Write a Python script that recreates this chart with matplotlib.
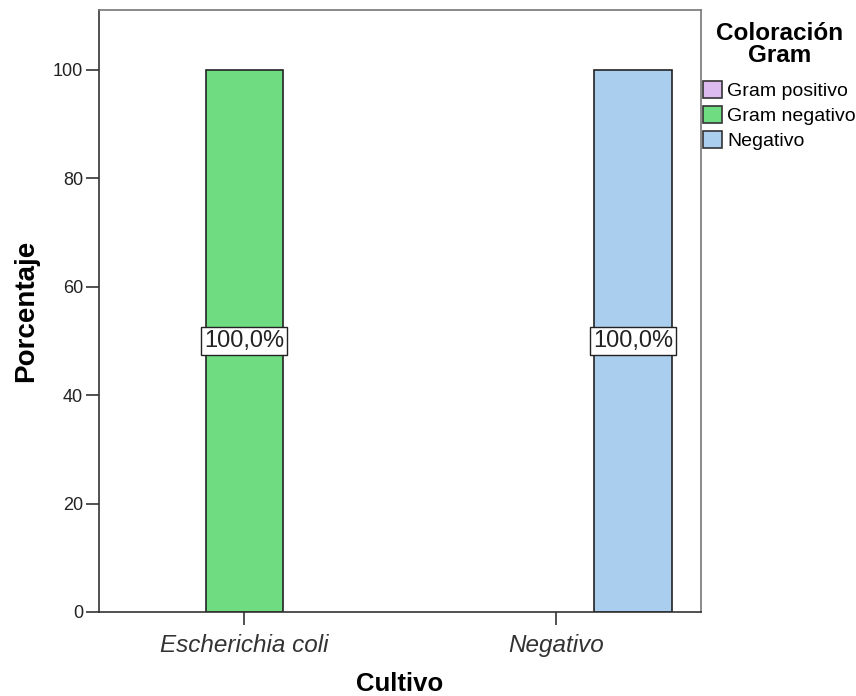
import numpy as np
import matplotlib
matplotlib.use("Agg")
import matplotlib.pyplot as plt
from matplotlib.patches import Patch

plt.rcParams['font.family'] = ['Liberation Sans', 'DejaVu Sans']

cultivos = ["Escherichia coli", "Negativo"]
series = ["Gram positivo", "Gram negativo", "Negativo"]
porcentajes = [
    [0, 0],      # Gram positivo
    [100, 0],    # Gram negativo
    [0, 100],    # Negativo
]
colores = ["#DCBCF0", "#70DC82", "#AACEEE"]

fig = plt.figure(figsize=(8.56, 6.96), dpi=100)
ax = fig.add_axes([99/856, 1 - 612/696, (701 - 99)/856, (612 - 10)/696])

x = np.arange(len(cultivos))
w = 0.247
for i, (nombre, vals, col) in enumerate(zip(series, porcentajes, colores)):
    pos = x + (i - 1) * w
    for xi, v in zip(pos, vals):
        if v > 0:
            ax.bar(xi, v, width=w, color=col, edgecolor="#222222", linewidth=1.2)
            ax.text(xi, v / 2, f"{v:.1f}%".replace(".", ","), ha="center", va="center",
                    fontsize=17, color="#222222",
                    bbox=dict(boxstyle="square,pad=0.12", facecolor="white",
                              edgecolor="#222222", linewidth=1))

ax.set_xlim(-0.465, 1.465)
ax.set_ylim(0, 111)
ax.set_yticks([0, 20, 40, 60, 80, 100])
ax.set_xticks(x)
ax.set_xticklabels(cultivos, fontsize=17.5, style="italic", color="#222222")
ax.tick_params(axis="y", labelsize=13, length=9.5, width=1.2, pad=2, colors="#333333",
               labelcolor="#222222")
ax.tick_params(axis="x", length=9.5, width=1.2, pad=6, colors="#333333")

for s in ["left", "bottom"]:
    ax.spines[s].set_color("#333333")
    ax.spines[s].set_linewidth(1.2)
for s in ["top", "right"]:
    ax.spines[s].set_color("#777777")
    ax.spines[s].set_linewidth(1.2)

ax.set_ylabel("Porcentaje", fontsize=20, fontweight="bold", labelpad=10)
ax.set_xlabel("Cultivo", fontsize=18.5, fontweight="bold", labelpad=11)

# titulo de la leyenda
fig.text(780/856, 1 - 34/696, "Coloración", ha="center", va="center",
         fontsize=17.5, fontweight="bold")
fig.text(780/856, 1 - 56/696, "Gram", ha="center", va="center",
         fontsize=17.5, fontweight="bold")

handles = [Patch(facecolor=c, edgecolor="#333333", linewidth=1.2, label=n)
           for c, n in zip(colores, series)]
leg = fig.legend(handles=handles, loc="upper left",
                 bbox_to_anchor=(703/856, 1 - 81/696), frameon=False,
                 fontsize=14, borderpad=0, borderaxespad=0,
                 handlelength=0.98, handleheight=0.93, handletextpad=0.25,
                 labelspacing=0.32)

fig.savefig("out.png", dpi=100)
